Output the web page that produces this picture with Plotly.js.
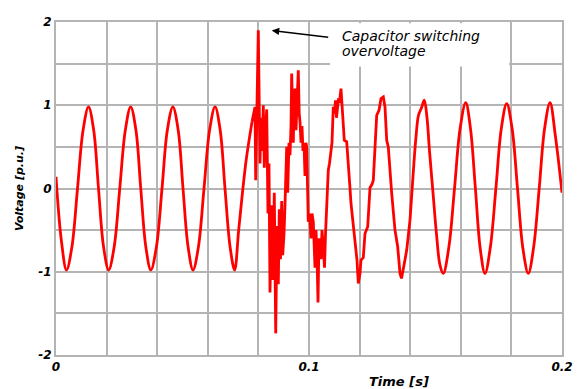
<!DOCTYPE html>
<html>
<head>
<meta charset="utf-8">
<script src="https://cdn.plot.ly/plotly-3.0.1.min.js"></script>
<style>html,body{margin:0;padding:0;background:#fff;}#chart{width:577px;height:389px;}</style>
</head>
<body>
<div id="chart"></div>
<script>
// Steady state before switching (s, p.u.)
var tPre = [0, 0.0021, 0.00415, 0.0063, 0.0085, 0.0107, 0.01285, 0.0149, 0.0168, 0.0188,
  0.02082, 0.0230, 0.0252, 0.0274, 0.02952, 0.0316, 0.0335, 0.0355, 0.03749, 0.0397,
  0.0419, 0.0440, 0.04619, 0.0483, 0.0502, 0.0522, 0.05416, 0.0563, 0.0585, 0.0607,
  0.06286, 0.0649, 0.0668, 0.0688, 0.0706, 0.0722, 0.0737, 0.0752, 0.07747];
var vPre = [0.14, -0.62, -0.98, -0.70, 0.00, 0.70, 0.98, 0.70, 0.00, -0.70,
  -0.98, -0.70, 0.00, 0.70, 0.98, 0.70, 0.00, -0.70, -0.98, -0.70,
  0.00, 0.70, 0.98, 0.70, 0.00, -0.70, -0.98, -0.70, 0.00, 0.70,
  0.98, 0.70, 0.00, -0.70, -0.98, -0.50, -0.05, 0.35, 0.80];

// Capacitor switching transient
var tTr = [0.07747, 0.07826, 0.07866, 0.07893, 0.07925, 0.07964, 0.07996, 0.08024, 0.08063, 0.08103,
  0.08142, 0.08194, 0.08233, 0.08281, 0.08328, 0.08379, 0.08419, 0.08458, 0.08498, 0.08526,
  0.08577, 0.08628, 0.08684, 0.08735, 0.08787, 0.08826, 0.08874, 0.08921, 0.08960, 0.09012,
  0.09051, 0.09119, 0.09158, 0.09209, 0.09249, 0.09289, 0.09316, 0.09348, 0.09379, 0.09419,
  0.09447, 0.09486, 0.09526, 0.09577, 0.09613, 0.09644, 0.09684, 0.09723, 0.09763, 0.09802,
  0.09842, 0.09881, 0.09909, 0.09941, 0.09972, 0.10020, 0.10079, 0.10119, 0.10170, 0.10237,
  0.10277, 0.10316, 0.10356, 0.10395, 0.10435, 0.10474, 0.10514, 0.10565, 0.10613, 0.10652,
  0.10700, 0.10763, 0.10810, 0.10870, 0.10909, 0.10960, 0.11008, 0.11047, 0.11087, 0.11158,
  0.11206, 0.11265, 0.11316, 0.11356, 0.11395, 0.11490, 0.11553, 0.11621, 0.11660, 0.11751,
  0.11846, 0.11897, 0.11949, 0.12016, 0.12055, 0.12146, 0.12213, 0.12320, 0.12411, 0.12490,
  0.12542, 0.12609, 0.12676, 0.12767, 0.12846, 0.12937, 0.13004, 0.13071, 0.13134, 0.13269,
  0.13399, 0.13506, 0.13597, 0.13656, 0.13715, 0.13767, 0.13862, 0.13913, 0.13992];
var vTr = [0.80, 0.95, 0.98, 0.10, 0.95, 1.35, 1.90, 1.20, 0.30, 0.85,
  0.45, 1.00, 0.25, 0.70, 0.95, -0.30, 0.30, -1.25, -0.60, -0.20,
  -1.10, -0.05, -1.74, -0.45, -1.15, -0.25, -0.85, -0.15, -0.80, -0.55,
  -0.20, 0.50, -0.05, 0.55, 0.40, 0.75, 1.38, 0.90, 0.55, 1.10,
  1.20, 0.70, 1.00, 1.42, 0.90, 0.80, 0.55, 0.75, 0.45, 0.55,
  0.15, 0.55, 0.50, 0.00, -0.40, -0.30, -0.60, -0.30, -0.40, -0.95,
  -0.50, -0.80, -1.37, -0.60, -0.65, -0.85, -0.50, -0.70, -0.95, -0.55,
  -0.10, 0.22, 0.30, 0.50, 0.55, 0.98, 0.90, 1.06, 0.85, 1.06,
  1.05, 1.20, 0.90, 0.80, 0.58, 0.56, 0.34, 0.00, -0.18, -0.46,
  -0.70, -0.86, -1.14, -1.02, -0.86, -0.83, -0.54, -0.46, 0.01, 0.05,
  0.10, 0.54, 0.88, 0.94, 1.08, 1.10, 0.98, 0.58, 0.50, -0.06,
  -0.50, -0.70, -1.02, -1.08, -0.95, -0.90, -0.74, -0.60, -0.38];

// Steady state after switching
var tPost = [0.13992, 0.14123, 0.14229, 0.14328, 0.14447, 0.14557, 0.14664, 0.14763, 0.14901, 0.15040,
  0.15178, 0.15308, 0.15530, 0.15751, 0.15972, 0.16194, 0.16383, 0.16577, 0.16767, 0.16957,
  0.17170, 0.17387, 0.17601, 0.17814, 0.18028, 0.18241, 0.18455, 0.18668, 0.18881, 0.19099,
  0.19312, 0.19526, 0.19743, 0.2];
var vPost = [-0.38, 0.20, 0.62, 0.88, 0.97, 1.06, 0.85, 0.45, -0.05, -0.55,
  -0.92, -1.02, -0.70, 0.00, 0.72, 1.03, 0.72, 0.00, -0.72, -1.02,
  -0.70, 0.00, 0.72, 1.02, 0.72, 0.00, -0.72, -1.02, -0.70, 0.00,
  0.72, 1.03, 0.62, -0.05];

var xTickVals = [0, 0.02, 0.04, 0.06, 0.08, 0.1, 0.12, 0.14, 0.16, 0.18, 0.2];
var xTickText = ['0', '', '', '', '', '0.1', '', '', '', '', '0.2'];
var yTickVals = [-2, -1.5, -1, -0.5, 0, 0.5, 1, 1.5, 2];
var yTickText = ['-2', '', '-1', '', '0', '', '1', '', '2'];

var red = '#ff0000';
var grid = '#b4b4b4';
var boldItal = {family: 'DejaVu Sans', size: 12, color: '#000', weight: 'bold', style: 'italic'};

var traces = [
  {x: tPre, y: vPre, mode: 'lines', line: {color: red, width: 2.8, shape: 'spline', smoothing: 1}, showlegend: false, hoverinfo: 'skip'},
  {x: tTr, y: vTr, mode: 'lines', line: {color: red, width: 2.8}, showlegend: false, hoverinfo: 'skip'},
  {x: tPost, y: vPost, mode: 'lines', line: {color: red, width: 2.8, shape: 'spline', smoothing: 1}, showlegend: false, hoverinfo: 'skip'}
];

var layout = {
  width: 577, height: 389,
  margin: {l: 56, r: 15, t: 22, b: 34},
  paper_bgcolor: '#fff', plot_bgcolor: '#fff',
  showlegend: false,
  xaxis: {
    range: [0, 0.2], tickvals: xTickVals, ticktext: xTickText,
    showgrid: true, gridcolor: grid, gridwidth: 2, zeroline: false,
    showline: true, mirror: true, linecolor: grid, linewidth: 2,
    ticks: '', tickfont: boldItal, fixedrange: true
  },
  yaxis: {
    range: [-2, 2], tickvals: yTickVals, ticktext: yTickText,
    showgrid: true, gridcolor: grid, gridwidth: 2, zeroline: false,
    showline: true, mirror: true, linecolor: grid, linewidth: 2,
    ticks: '', tickfont: boldItal, fixedrange: true,
    title: {text: 'Voltage [p.u.]', font: {family: 'DejaVu Sans', size: 11, color: '#000', weight: 'bold', style: 'italic'}, standoff: 12}
  },
  shapes: [
    {type: 'rect', xref: 'x', yref: 'y', x0: 0.1083, x1: 0.1791, y0: 1.465, y1: 1.985,
     fillcolor: '#fff', line: {width: 0}, layer: 'between'}
  ],
  annotations: [
    {xref: 'x', yref: 'y', x: 0.08526, y: 1.898, ax: 58, ay: 7, text: '', showarrow: true,
     arrowhead: 2, arrowsize: 1, arrowwidth: 1.5, arrowcolor: '#000', standoff: 0, startstandoff: 0},
    {xref: 'x', yref: 'y', x: 0.11225, y: 1.826, xanchor: 'left', yanchor: 'middle', showarrow: false,
     text: 'Capacitor switching', font: {family: 'DejaVu Sans', size: 14, color: '#000', style: 'italic'}},
    {xref: 'x', yref: 'y', x: 0.11225, y: 1.646, xanchor: 'left', yanchor: 'middle', showarrow: false,
     text: 'overvoltage', font: {family: 'DejaVu Sans', size: 14, color: '#000', style: 'italic'}},
    {xref: 'paper', yref: 'paper', x: 0.678, y: -0.081, xanchor: 'center', yanchor: 'middle', showarrow: false,
     text: 'Time [s]', font: {family: 'DejaVu Sans', size: 13, color: '#000', weight: 'bold', style: 'italic'}}
  ]
};

Plotly.newPlot('chart', traces, layout, {displayModeBar: false, staticPlot: true});
</script>
</body>
</html>
